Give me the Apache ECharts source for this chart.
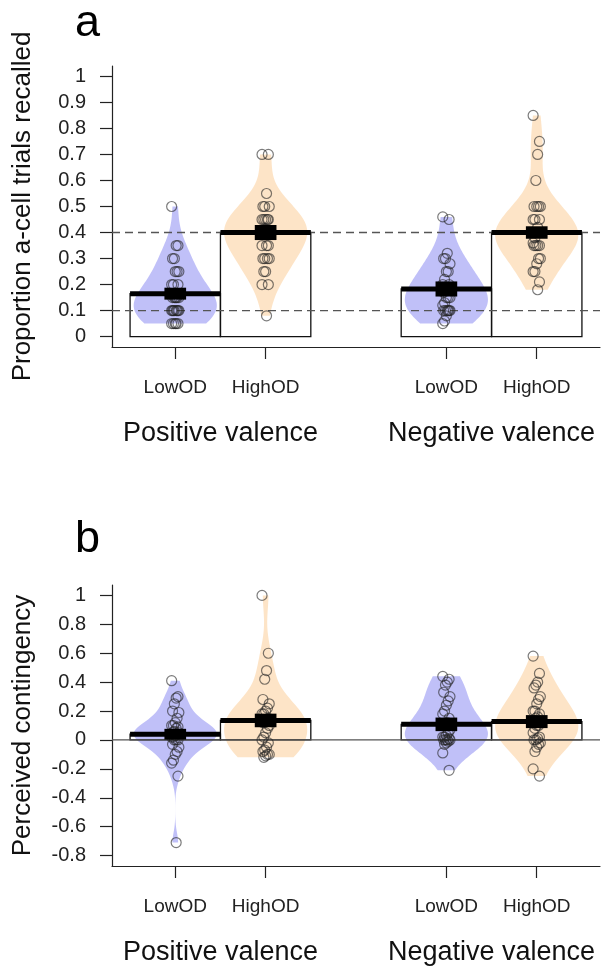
<!DOCTYPE html>
<html>
<head>
<meta charset="utf-8">
<script src="https://cdn.jsdelivr.net/npm/echarts@6.0.0/dist/echarts.min.js"></script>
<style>
  html, body { margin: 0; padding: 0; background: #fff; }
  #main { width: 601px; height: 970px; }
</style>
</head>
<body>
<div id="main"></div>
<script>
const conditions = ['LowOD', 'HighOD', 'LowOD', 'HighOD'];
const valences = ['Positive valence', 'Negative valence'];
const yTicksA = [0, 0.1, 0.2, 0.3, 0.4, 0.5, 0.6, 0.7, 0.8, 0.9, 1];
const yTicksB = [-0.8, -0.6, -0.4, -0.2, 0, 0.2, 0.4, 0.6, 0.8, 1];
const refLinesA = [0.1, 0.4];
const refLinesB = [0];

// panel a: proportion of a-cell trials recalled
const recallPosLow = [0.5, 0.35, 0.35, 0.3, 0.3, 0.25, 0.25, 0.25, 0.2, 0.2, 0.2, 0.15, 0.15, 0.15, 0.15, 0.15, 0.15, 0.1, 0.1, 0.1, 0.1, 0.1, 0.1, 0.1, 0.1, 0.05, 0.05, 0.05, 0.05, 0.05];
const recallPosHigh = [0.7, 0.7, 0.55, 0.5, 0.5, 0.5, 0.45, 0.45, 0.45, 0.45, 0.45, 0.4, 0.4, 0.4, 0.4, 0.4, 0.4, 0.4, 0.35, 0.35, 0.35, 0.3, 0.3, 0.3, 0.3, 0.25, 0.25, 0.2, 0.2, 0.08];
const recallNegLow = [0.46, 0.45, 0.32, 0.3, 0.3, 0.28, 0.25, 0.25, 0.22, 0.2, 0.2, 0.18, 0.18, 0.17, 0.15, 0.15, 0.15, 0.13, 0.12, 0.1, 0.1, 0.1, 0.1, 0.1, 0.1, 0.08, 0.06, 0.05];
const recallNegHigh = [0.85, 0.75, 0.7, 0.6, 0.5, 0.5, 0.5, 0.5, 0.45, 0.45, 0.45, 0.42, 0.4, 0.4, 0.4, 0.4, 0.4, 0.38, 0.36, 0.35, 0.35, 0.35, 0.35, 0.3, 0.3, 0.28, 0.25, 0.25, 0.21, 0.18];
const recallMeans = [0.165, 0.40, 0.183, 0.40];
const recallErr = [0.023, 0.029, 0.029, 0.024];

// panel b: perceived contingency
const contPosLow = [0.41, 0.3, 0.29, 0.25, 0.2, 0.19, 0.15, 0.12, 0.1, 0.1, 0.09, 0.08, 0.06, 0.05, 0.05, 0.04, 0.03, 0.02, 0.02, 0.0, 0.0, 0.0, -0.03, -0.05, -0.08, -0.1, -0.14, -0.16, -0.25, -0.71];
const contPosHigh = [1.0, 0.6, 0.48, 0.42, 0.28, 0.25, 0.22, 0.2, 0.18, 0.18, 0.15, 0.14, 0.12, 0.12, 0.1, 0.08, 0.05, 0.02, 0.0, -0.02, -0.05, -0.07, -0.08, -0.1, -0.1, -0.11, -0.12];
const contNegLow = [0.44, 0.42, 0.4, 0.38, 0.33, 0.3, 0.27, 0.24, 0.2, 0.18, 0.15, 0.12, 0.1, 0.1, 0.07, 0.05, 0.03, 0.02, 0.02, 0.01, 0.0, 0.0, 0.0, 0.0, -0.01, -0.02, -0.03, -0.09, -0.21];
const contNegHigh = [0.58, 0.46, 0.4, 0.38, 0.36, 0.3, 0.28, 0.25, 0.2, 0.2, 0.18, 0.16, 0.15, 0.13, 0.12, 0.1, 0.1, 0.08, 0.05, 0.02, 0.01, 0.0, 0.0, -0.02, -0.03, -0.05, -0.08, -0.2, -0.25];
const contMeans = [0.04, 0.135, 0.108, 0.127];
const contErr = [0.037, 0.047, 0.047, 0.045];

const FONT = 'Liberation Sans, Arial, sans-serif';
const beanColors = ['#bdbdf8', '#fde3c4'];
const slots = conditions.map((c, i) => i < 2 ? i + 1 : i + 2);

// bandwidth like R's bw.nrd0
function nrd0(v) {
  const n = v.length;
  const m = v.reduce((a, b) => a + b, 0) / n;
  const sd = Math.sqrt(v.reduce((a, b) => a + (b - m) * (b - m), 0) / (n - 1));
  const s = v.slice().sort((a, b) => a - b);
  const q = p => {
    const h = (n - 1) * p, lo = Math.floor(h);
    return s[lo] + (h - lo) * (s[Math.min(lo + 1, n - 1)] - s[lo]);
  };
  let lo = Math.min(sd, (q(0.75) - q(0.25)) / 1.34);
  if (!(lo > 0)) lo = sd;
  return 0.9 * lo * Math.pow(n, -0.2);
}

function bean(v) {
  const bw = nrd0(v) * 1.45;
  const lo = Math.min(...v), hi = Math.max(...v);
  const pts = [];
  for (let k = 0; k <= 80; k++) {
    const y = lo + (hi - lo) * k / 80;
    let d = 0;
    v.forEach(x => { const z = (y - x) / bw; d += Math.exp(-0.5 * z * z); });
    pts.push([y, d]);
  }
  const mx = Math.max(...pts.map(p => p[1]));
  return pts.map(p => [p[0], p[1] / mx * 0.46]);
}

function jitter(k) {
  return ((k * 7) % 9 - 4) * 0.01;
}

function panelSeries(p, samples, means, errs, refLines, refDashed) {
  const shapes = samples.map(bean);
  const list = [];
  // bar fill
  list.push({
    type: 'custom', xAxisIndex: p * 2, yAxisIndex: p, z: 1, silent: true,
    data: means.map((m, i) => [slots[i], m]),
    renderItem: (params, api) => {
      const x = api.value(0), m = api.value(1);
      const a = api.coord([x - 0.5, m]), b = api.coord([x + 0.5, 0]);
      return {
        type: 'rect',
        shape: { x: a[0], y: Math.min(a[1], b[1]), width: b[0] - a[0], height: Math.abs(b[1] - a[1]) },
        style: { fill: '#fff' }
      };
    }
  });
  // beans
  list.push({
    type: 'custom', xAxisIndex: p * 2, yAxisIndex: p, z: 2, silent: true,
    data: samples.map((s, i) => [slots[i], Math.min(...s), i]),
    renderItem: (params, api) => {
      const x = api.value(0), i = api.value(2);
      const sh = shapes[i];
      const left = sh.map(d => api.coord([x - d[1], d[0]]));
      const right = sh.slice().reverse().map(d => api.coord([x + d[1], d[0]]));
      return {
        type: 'polygon',
        shape: { points: left.concat(right) },
        style: { fill: beanColors[i % 2], opacity: 0.95 }
      };
    }
  });
  // bar outline
  list.push({
    type: 'custom', xAxisIndex: p * 2, yAxisIndex: p, z: 3, silent: true,
    data: means.map((m, i) => [slots[i], m]),
    renderItem: (params, api) => {
      const x = api.value(0), m = api.value(1);
      const a = api.coord([x - 0.5, m]), b = api.coord([x + 0.5, 0]);
      return {
        type: 'rect',
        shape: { x: a[0], y: Math.min(a[1], b[1]), width: b[0] - a[0], height: Math.abs(b[1] - a[1]) },
        style: { fill: null, stroke: '#111', lineWidth: 1.3 }
      };
    }
  });
  // reference lines
  list.push({
    type: 'custom', xAxisIndex: p * 2, yAxisIndex: p, z: 4, silent: true,
    data: refLines.map(v => [1, v]),
    renderItem: (params, api) => {
      const v = api.value(1);
      const a = api.coord([0.3, v]), b = api.coord([5.7, v]);
      return {
        type: 'line',
        shape: { x1: a[0], y1: a[1], x2: b[0], y2: b[1] },
        style: { stroke: '#555', lineWidth: 1.3, lineDash: refDashed ? [8, 5] : null }
      };
    }
  });
  // points
  samples.forEach((s, i) => {
    list.push({
      type: 'scatter', xAxisIndex: p * 2, yAxisIndex: p, z: 5, silent: true,
      symbol: 'circle', symbolSize: 10,
      itemStyle: { color: 'rgba(0,0,0,0)', borderColor: 'rgba(35,35,35,0.75)', borderWidth: 1.2 },
      data: s.map((v, k) => [slots[i] + jitter(k), v])
    });
  });
  // mean line + inference band
  list.push({
    type: 'custom', xAxisIndex: p * 2, yAxisIndex: p, z: 6, silent: true,
    data: means.map((m, i) => [slots[i], m, errs[i]]),
    renderItem: (params, api) => {
      const x = api.value(0), m = api.value(1), e = api.value(2);
      const l = api.coord([x - 0.5, m]), r = api.coord([x + 0.5, m]);
      const b0 = api.coord([x - 0.12, m + e]), b1 = api.coord([x + 0.12, m - e]);
      return {
        type: 'group',
        children: [
          { type: 'rect', shape: { x: b0[0], y: b0[1], width: b1[0] - b0[0], height: b1[1] - b0[1] }, style: { fill: '#000' } },
          { type: 'line', shape: { x1: l[0], y1: l[1], x2: r[0], y2: r[1] }, style: { stroke: '#000', lineWidth: 5 } }
        ]
      };
    }
  });
  return list;
}

function condAxis(g) {
  return {
    type: 'value', gridIndex: g, min: 0.3, max: 5.7, position: 'bottom',
    axisLine: { show: true, onZero: false, lineStyle: { color: '#222', width: 1.2 } },
    axisTick: { show: true, customValues: slots, length: 12, lineStyle: { color: '#222', width: 1.2 } },
    axisLabel: {
      customValues: slots, margin: 31, fontSize: 19, color: '#222', fontFamily: FONT,
      formatter: v => conditions[slots.indexOf(v)]
    },
    splitLine: { show: false }
  };
}

function valenceAxis(g) {
  return {
    type: 'value', gridIndex: g, min: 0.3, max: 5.7, position: 'bottom',
    axisLine: { show: false, onZero: false },
    axisTick: { show: false },
    axisLabel: {
      customValues: [1.5, 4.5], margin: 73, fontSize: 27, color: '#111', fontFamily: FONT,
      formatter: v => valences[v < 3 ? 0 : 1]
    },
    splitLine: { show: false }
  };
}

function valueAxis(g, min, max, ticks, name) {
  return {
    type: 'value', gridIndex: g, min: min, max: max,
    name: name, nameLocation: 'middle', nameGap: 76,
    nameTextStyle: { fontSize: 26, color: '#111', fontFamily: FONT },
    axisLine: { show: true, onZero: false, lineStyle: { color: '#222', width: 1.2 } },
    axisTick: { show: true, customValues: ticks, length: 12, lineStyle: { color: '#222', width: 1.2 } },
    axisLabel: { customValues: ticks, margin: 26, fontSize: 20, color: '#222', fontFamily: FONT, formatter: v => String(v) },
    splitLine: { show: false }
  };
}

const chart = echarts.init(document.getElementById('main'));
const option = {
  animation: false,
  backgroundColor: '#fff',
  title: [
    { text: 'a', left: 70, top: -4, textStyle: { fontSize: 45, fontWeight: 'normal', color: '#000', fontFamily: FONT } },
    { text: 'b', left: 70, top: 512, textStyle: { fontSize: 45, fontWeight: 'normal', color: '#000', fontFamily: FONT } }
  ],
  grid: [
    { left: 112, right: 1, top: 66, height: 281 },
    { left: 112, right: 1, top: 585, height: 281 }
  ],
  xAxis: [condAxis(0), valenceAxis(0), condAxis(1), valenceAxis(1)],
  yAxis: [
    valueAxis(0, -0.04, 1.04, yTicksA, 'Proportion a-cell trials recalled'),
    valueAxis(1, -0.872, 1.072, yTicksB, 'Perceived contingency')
  ],
  series: [].concat(
    panelSeries(0, [recallPosLow, recallPosHigh, recallNegLow, recallNegHigh], recallMeans, recallErr, refLinesA, true),
    panelSeries(1, [contPosLow, contPosHigh, contNegLow, contNegHigh], contMeans, contErr, refLinesB, false)
  )
};
chart.setOption(option);
</script>
</body>
</html>
